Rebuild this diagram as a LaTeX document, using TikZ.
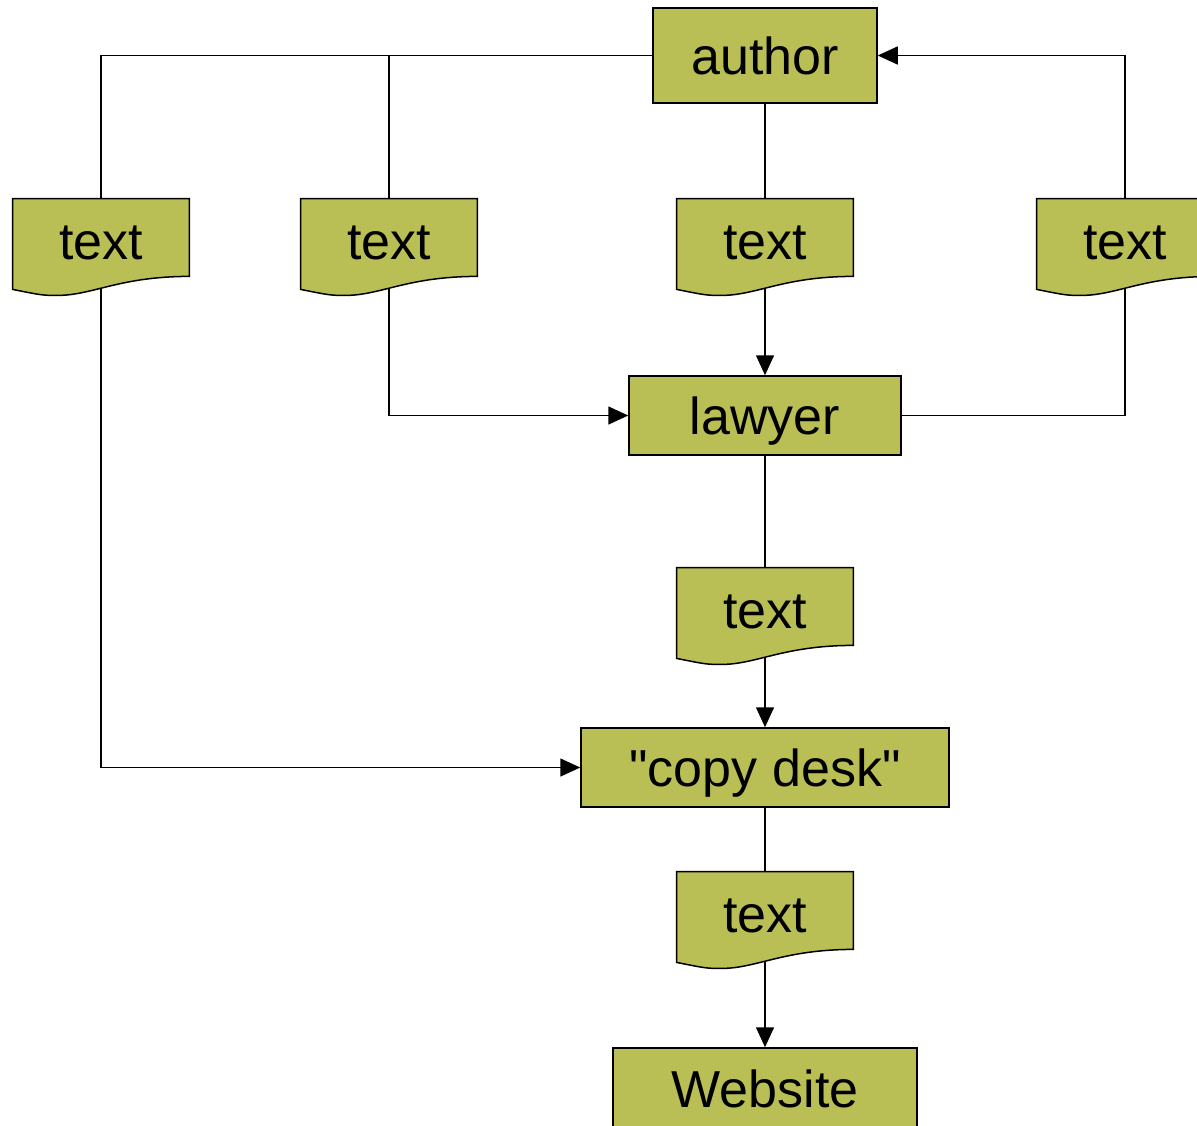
\documentclass[tikz,border=0pt]{standalone}
\usepackage{fontspec}
\setmainfont{Liberation Sans}[Ligatures=TeXOff]
\usetikzlibrary{arrows.meta,backgrounds}

\definecolor{boxgreen}{RGB}{185,191,85}

\pgfdeclarelayer{lines}
\pgfsetlayers{lines,background,main}

\tikzset{
  box/.style={draw, fill=boxgreen, line width=0.75pt, inner sep=0pt,
    font=\fontsize{26}{30}\selectfont, text height=23pt, text depth=4pt},
  doc/.style={inner sep=0pt, minimum width=88pt, minimum height=38.5pt,
    font=\fontsize{26}{30}\selectfont, text height=24pt, text depth=2.5pt},
  link/.style={line width=0.75pt},
  arr/.style={link, -{Triangle[length=10pt,width=9pt]}}
}

\begin{document}
\begin{tikzpicture}[x=0.5pt,y=-0.5pt]

  \useasboundingbox (0,0) rectangle (1197,1125);

  \node[box, minimum width=112pt, minimum height=47.5pt] (author) at (765,55.5)  {author};

  \node[box, minimum width=136pt, minimum height=39.5pt] (lawyer) at (765,415.5) {lawyer};

  \node[box, minimum width=184pt, minimum height=39.5pt] (copy)   at (765,767.5) {"copy desk"};

  \node[box, minimum width=152pt, minimum height=40pt]   (web)    at (765,1088)  {Website};

  \node[doc] (t1) at (101,237.5)  {text};
  \node[doc] (t2) at (389,237.5)  {text};
  \node[doc] (t3) at (765,237.5)  {text};
  \node[doc] (t4) at (1125,237.5) {text};
  \node[doc] (t5) at (765,606.5)  {text};
  \node[doc] (t6) at (765,910.5)  {text};

  % Document shapes
  \begin{pgfonlayer}{background}
    \foreach \d in {t1,t2,t3,t4,t5,t6}
      \filldraw[link, fill=boxgreen] (\d.north west) -- (\d.north east) -- (\d.south east)
        .. controls +(-70,0) and +(35,0) .. ([shift={(45,19)}]\d.south west)
        .. controls +(-15,0) .. ([shift={(0,13)}]\d.south west) -- cycle;
  \end{pgfonlayer}

  % Arrows
  \begin{pgfonlayer}{lines}
    \draw[link] (author.west) -| (t1.north);
    \draw[link] (author.west) -| (t2.north);
    \draw[arr]  (t4.north) |- (author.east);
    \draw[link] (author) -- (t3);
    \draw[arr]  (t3.south) -- (lawyer.north);
    \draw[arr]  (t2.south) |- (lawyer.west);
    \draw[link] (t4.south) |- (lawyer.east);
    \draw[link] (lawyer) -- (t5);
    \draw[arr]  (t5.south) -- (copy.north);
    \draw[arr]  (t1.south) |- (copy.west);
    \draw[link] (copy) -- (t6);
    \draw[arr]  (t6.south) -- (web.north);
  \end{pgfonlayer}

\end{tikzpicture}
\end{document}
